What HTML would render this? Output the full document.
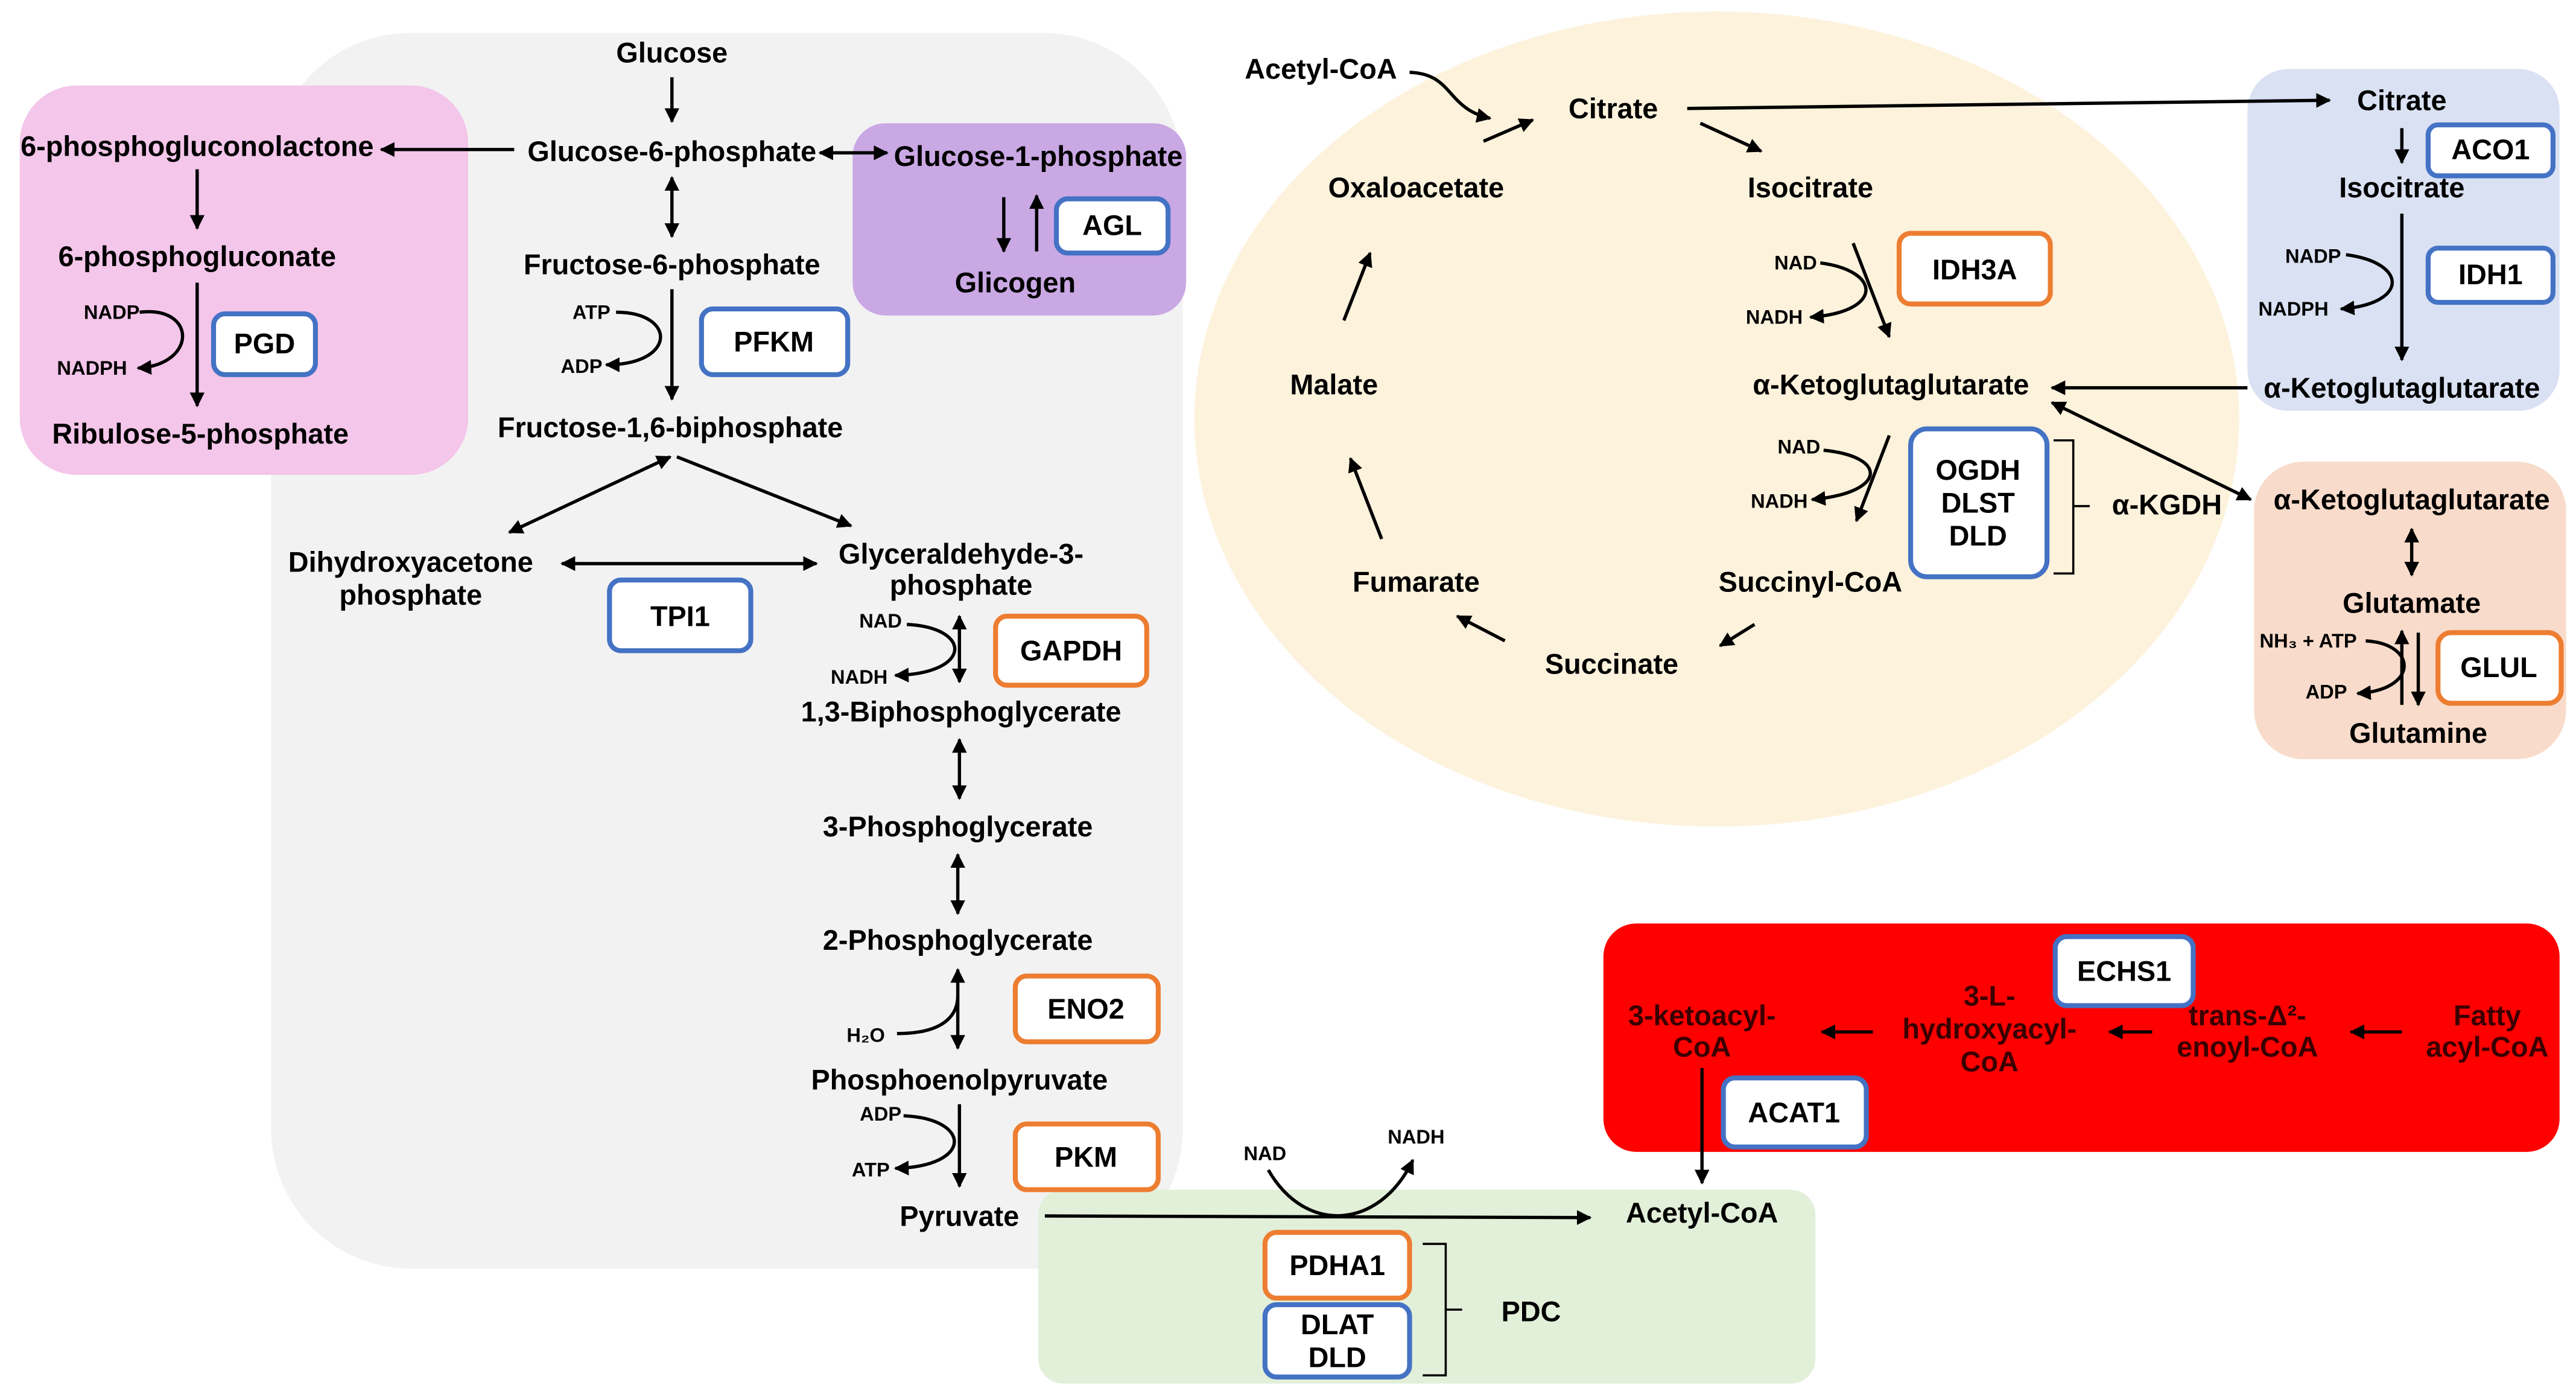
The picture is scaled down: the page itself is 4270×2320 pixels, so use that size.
<!DOCTYPE html>
<html><head><meta charset="utf-8"><style>
html,body{margin:0;padding:0;background:#fff;width:4270px;height:2320px;overflow:hidden}
svg{display:block}
text{font-family:"Liberation Sans",Arial,sans-serif;font-weight:bold;fill:#000;text-anchor:middle}
.s{font-size:12px}
.m{font-size:17.2px}
.r{fill:#3a0000}
.ln{stroke:#000;stroke-width:2;fill:none}
.b{fill:#fff;stroke:#4472c4;stroke-width:3}
.o{fill:#fff;stroke:#ed7d31;stroke-width:3}
</style></head><body>
<svg width="4270" height="2320" viewBox="0 0 1568 852" preserveAspectRatio="none" xmlns="http://www.w3.org/2000/svg">
<defs>
<marker id="a" viewBox="0 0 10 10" refX="9" refY="5" markerWidth="9" markerHeight="9" markerUnits="userSpaceOnUse" orient="auto-start-reverse"><path d="M0,0 L10,5 L0,10 z" fill="#000"/></marker>
</defs>
<rect x="165" y="20" width="555" height="752" rx="85" fill="#f2f2f2"/>
<ellipse cx="1045" cy="255" rx="318" ry="248" fill="#fdf2dc"/>
<rect x="12" y="52" width="273" height="237" rx="35" fill="#f4c6ea"/>
<rect x="519" y="75" width="203" height="117" rx="20" fill="#caa8e4"/>
<rect x="1368" y="42" width="190" height="208" rx="25" fill="#d9e1f3"/>
<rect x="1372" y="281" width="190" height="181" rx="30" fill="#f8dbca"/>
<rect x="976" y="562" width="582" height="139" rx="20" fill="#ff0000"/>
<rect x="632" y="724" width="473" height="118" rx="15" fill="#e2efd9"/>

<rect class="b" x="130" y="191" width="62" height="37" rx="7"/><text class="m" x="161" y="215">PGD</text>
<rect class="b" x="427" y="188" width="89" height="40" rx="7"/><text class="m" x="471" y="214">PFKM</text>
<rect class="b" x="643" y="121" width="68" height="33" rx="7"/><text class="m" x="677" y="143">AGL</text>
<rect class="b" x="371" y="353" width="86" height="43" rx="7"/><text class="m" x="414" y="381">TPI1</text>
<rect class="o" x="606" y="375" width="92" height="42" rx="7"/><text class="m" x="652" y="402">GAPDH</text>
<rect class="o" x="618" y="594" width="87" height="40" rx="7"/><text class="m" x="661" y="620">ENO2</text>
<rect class="o" x="618" y="684" width="87" height="40" rx="7"/><text class="m" x="661" y="710">PKM</text>
<rect class="o" x="770" y="750" width="88" height="40" rx="7"/><text class="m" x="814" y="776">PDHA1</text>
<rect class="b" x="770" y="794" width="88" height="44" rx="7"/><text class="m" x="814" y="812">DLAT</text><text class="m" x="814" y="832">DLD</text>
<rect class="o" x="1156" y="142" width="92" height="43" rx="7"/><text class="m" x="1202" y="170">IDH3A</text>
<rect class="b" x="1163" y="261" width="83" height="90" rx="10"/><text class="m" x="1204" y="292">OGDH</text><text class="m" x="1204" y="312">DLST</text><text class="m" x="1204" y="332">DLD</text>
<rect class="b" x="1478" y="76" width="76" height="31" rx="6"/><text class="m" x="1516" y="97">ACO1</text>
<rect class="b" x="1478" y="151" width="76" height="33" rx="6"/><text class="m" x="1516" y="173">IDH1</text>
<rect class="o" x="1484" y="385" width="75" height="43" rx="8"/><text class="m" x="1521" y="412">GLUL</text>
<rect class="b" x="1251" y="570" width="84" height="42" rx="7"/><text class="m" x="1293" y="597">ECHS1</text>
<rect class="b" x="1049" y="656" width="87" height="42" rx="7"/><text class="m" x="1092" y="683">ACAT1</text>

<text class="m" x="409" y="38">Glucose</text>
<text class="m" x="409" y="98">Glucose-6-phosphate</text>
<text class="m" x="120" y="95">6-phosphogluconolactone</text>
<text class="m" x="120" y="162">6-phosphogluconate</text>
<text class="m" x="122" y="270">Ribulose-5-phosphate</text>
<text class="m" x="632" y="101">Glucose-1-phosphate</text>
<text class="m" x="618" y="178">Glicogen</text>
<text class="m" x="409" y="167">Fructose-6-phosphate</text>
<text class="m" x="408" y="266">Fructose-1,6-biphosphate</text>
<text class="m" x="250" y="348">Dihydroxyacetone</text><text class="m" x="250" y="368">phosphate</text>
<text class="m" x="585" y="343">Glyceraldehyde-3-</text><text class="m" x="585" y="362">phosphate</text>
<text class="m" x="585" y="439">1,3-Biphosphoglycerate</text>
<text class="m" x="583" y="509">3-Phosphoglycerate</text>
<text class="m" x="583" y="578">2-Phosphoglycerate</text>
<text class="m" x="584" y="663">Phosphoenolpyruvate</text>
<text class="m" x="584" y="746">Pyruvate</text>
<text class="m" x="1036" y="744">Acetyl-CoA</text>
<text class="m" x="932" y="804">PDC</text>
<text class="m" x="804" y="48">Acetyl-CoA</text>
<text class="m" x="982" y="72">Citrate</text>
<text class="m" x="1102" y="120">Isocitrate</text>
<text class="m" x="862" y="120">Oxaloacetate</text>
<text class="m" x="812" y="240">Malate</text>
<text class="m" x="1151" y="240">α-Ketoglutaglutarate</text>
<text class="m" x="862" y="360">Fumarate</text>
<text class="m" x="1102" y="360">Succinyl-CoA</text>
<text class="m" x="981" y="410">Succinate</text>
<text class="m" x="1319" y="313">α-KGDH</text>
<text class="m" x="1462" y="67">Citrate</text>
<text class="m" x="1462" y="120">Isocitrate</text>
<text class="m" x="1462" y="242">α-Ketoglutaglutarate</text>
<text class="m" x="1468" y="310">α-Ketoglutaglutarate</text>
<text class="m" x="1468" y="373">Glutamate</text>
<text class="m" x="1472" y="452">Glutamine</text>
<text class="m r" x="1036" y="624">3-ketoacyl-</text><text class="m r" x="1036" y="643">CoA</text>
<text class="m r" x="1211" y="612">3-L-</text><text class="m r" x="1211" y="632">hydroxyacyl-</text><text class="m r" x="1211" y="652">CoA</text>
<text class="m r" x="1368" y="624">trans-Δ²-</text><text class="m r" x="1368" y="643">enoyl-CoA</text>
<text class="m r" x="1514" y="624">Fatty</text><text class="m r" x="1514" y="643">acyl-CoA</text>

<text class="s" x="68" y="194">NADP</text>
<text class="s" x="56" y="228">NADPH</text>
<text class="s" x="360" y="194">ATP</text>
<text class="s" x="354" y="227">ADP</text>
<text class="s" x="536" y="382">NAD</text>
<text class="s" x="523" y="416">NADH</text>
<text class="s" x="527" y="634">H₂O</text>
<text class="s" x="536" y="682">ADP</text>
<text class="s" x="530" y="716">ATP</text>
<text class="s" x="770" y="706">NAD</text>
<text class="s" x="862" y="696">NADH</text>
<text class="s" x="1093" y="164">NAD</text>
<text class="s" x="1080" y="197">NADH</text>
<text class="s" x="1095" y="276">NAD</text>
<text class="s" x="1083" y="309">NADH</text>
<text class="s" x="1408" y="160">NADP</text>
<text class="s" x="1396" y="192">NADPH</text>
<text class="s" x="1405" y="394">NH₃ + ATP</text>
<text class="s" x="1416" y="425">ADP</text>

<g class="ln">
<line x1="409" y1="47" x2="409" y2="74" marker-end="url(#a)"/>
<line x1="313" y1="91" x2="232" y2="91" marker-end="url(#a)"/>
<line x1="499" y1="93" x2="540" y2="93" marker-start="url(#a)" marker-end="url(#a)"/>
<line x1="611" y1="120" x2="611" y2="153" marker-end="url(#a)"/>
<line x1="631" y1="153" x2="631" y2="119" marker-end="url(#a)"/>
<line x1="120" y1="103" x2="120" y2="139" marker-end="url(#a)"/>
<line x1="120" y1="172" x2="120" y2="247" marker-end="url(#a)"/>
<path d="M85,190 C120,186 120,222 84,224" marker-end="url(#a)"/>
<line x1="409" y1="108" x2="409" y2="144" marker-start="url(#a)" marker-end="url(#a)"/>
<line x1="409" y1="176" x2="409" y2="243" marker-end="url(#a)"/>
<path d="M375,190 C412,190 412,222 369,222" marker-end="url(#a)"/>
<line x1="408" y1="278" x2="310" y2="324" marker-start="url(#a)" marker-end="url(#a)"/>
<line x1="412" y1="278" x2="518" y2="320" marker-end="url(#a)"/>
<line x1="342" y1="343" x2="497" y2="343" marker-start="url(#a)" marker-end="url(#a)"/>
<line x1="584" y1="375" x2="584" y2="415" marker-start="url(#a)" marker-end="url(#a)"/>
<path d="M552,380 C592,382 592,410 545,411" marker-end="url(#a)"/>
<line x1="584" y1="450" x2="584" y2="486" marker-start="url(#a)" marker-end="url(#a)"/>
<line x1="583" y1="520" x2="583" y2="556" marker-start="url(#a)" marker-end="url(#a)"/>
<line x1="583" y1="590" x2="583" y2="638" marker-start="url(#a)" marker-end="url(#a)"/>
<path d="M546,629 C578,629 583,615 583,606"/>
<line x1="584" y1="672" x2="584" y2="722" marker-end="url(#a)"/>
<path d="M550,679 C592,681 592,710 545,711" marker-end="url(#a)"/>
<line x1="636" y1="740" x2="968" y2="741" marker-end="url(#a)"/>
<path d="M772,712 C795,752 840,748 860,706" marker-end="url(#a)"/>
<line x1="1036" y1="650" x2="1036" y2="720" marker-end="url(#a)"/>
<path d="M866,757 L880,757 L880,837 L866,837 M880,797 L890,797" stroke-width="1.3"/>
<path d="M1250,268 L1262,268 L1262,349 L1250,349 M1262,308 L1272,308" stroke-width="1.3"/>
<path d="M858,44 C885,45 880,66 907,72" marker-end="url(#a)"/>
<line x1="903" y1="86" x2="933" y2="73" marker-end="url(#a)"/>
<line x1="1027" y1="66" x2="1418" y2="61" marker-end="url(#a)"/>
<line x1="1035" y1="75" x2="1072" y2="92" marker-end="url(#a)"/>
<line x1="1128" y1="148" x2="1150" y2="205" marker-end="url(#a)"/>
<path d="M1108,160 C1146,165 1146,190 1102,193" marker-end="url(#a)"/>
<line x1="1150" y1="265" x2="1130" y2="317" marker-end="url(#a)"/>
<path d="M1110,274 C1150,278 1148,300 1103,304" marker-end="url(#a)"/>
<line x1="1068" y1="380" x2="1047" y2="393" marker-end="url(#a)"/>
<line x1="916" y1="390" x2="887" y2="375" marker-end="url(#a)"/>
<line x1="841" y1="328" x2="822" y2="279" marker-end="url(#a)"/>
<line x1="818" y1="195" x2="834" y2="154" marker-end="url(#a)"/>
<line x1="1368" y1="236" x2="1249" y2="236" marker-end="url(#a)"/>
<line x1="1249" y1="245" x2="1370" y2="304" marker-start="url(#a)" marker-end="url(#a)"/>
<line x1="1462" y1="78" x2="1462" y2="99" marker-end="url(#a)"/>
<line x1="1462" y1="130" x2="1462" y2="219" marker-end="url(#a)"/>
<path d="M1428,155 C1466,160 1466,185 1425,188" marker-end="url(#a)"/>
<line x1="1468" y1="322" x2="1468" y2="350" marker-start="url(#a)" marker-end="url(#a)"/>
<line x1="1472" y1="385" x2="1472" y2="429" marker-end="url(#a)"/>
<line x1="1462" y1="429" x2="1462" y2="384" marker-end="url(#a)"/>
<path d="M1440,390 C1472,392 1472,420 1435,422" marker-end="url(#a)"/>
<line x1="1462" y1="628" x2="1431" y2="628" marker-end="url(#a)"/>
<line x1="1310" y1="628" x2="1284" y2="628" marker-end="url(#a)"/>
<line x1="1140" y1="628" x2="1109" y2="628" marker-end="url(#a)"/>
</g>
</svg>
</body></html>
